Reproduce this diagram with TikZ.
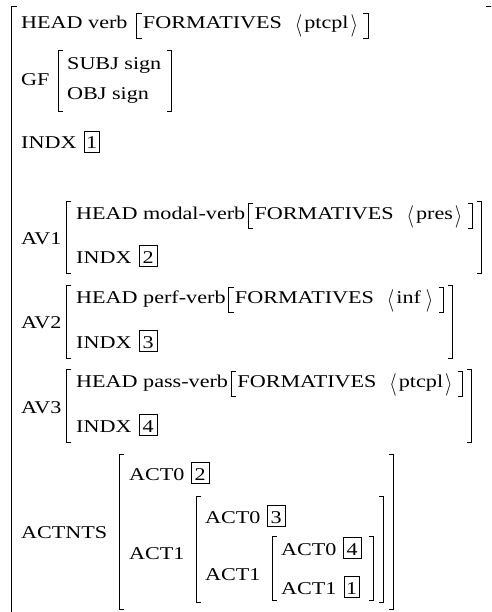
\documentclass[tikz,border=0pt]{standalone}
\usepackage{fontspec}
\setmainfont{Liberation Serif}[FakeStretch=1.23]
\usetikzlibrary{calc}
\newcommand{\avmfont}{\fontsize{18}{22}\selectfont}
\newcommand{\avmL}{\raisebox{-3pt}{\scalebox{1.1}[1.3]{$\langle$}}\kern2pt}
\newcommand{\avmR}{\kern2pt\raisebox{-3pt}{\scalebox{1.1}[1.3]{$\rangle$}}\kern4pt}
\tikzset{
  txt/.style={inner sep=0pt, anchor=base west, text height=12pt, text depth=5pt, font=\avmfont},
  fb/.style={inner xsep=6pt, inner ysep=3.5pt, anchor=base west, text height=12pt, text depth=6pt, font=\avmfont},
  dbox/.style={draw, line width=0.8pt, inner xsep=0pt, inner ysep=2pt, text height=16pt, text depth=1pt, minimum width=18pt, anchor=base west, font=\avmfont},
  dboxn/.style={dbox, minimum width=15pt},
  brk/.style={line width=0.9pt}
}
\newcommand{\brkc}[2]{%
  \draw[brk] ($(#1)+(5,0)$) -- (#1) -- (#1 |- #2) -- ($(#1 |- #2)+(5,0)$);
  \draw[brk] ($(#2 |- #1)+(-5,0)$) -- (#2 |- #1) -- (#2) -- ($(#2)+(-5,0)$);}
\begin{document}
\begin{tikzpicture}[x=1pt,y=-1pt]
\useasboundingbox (0,0) rectangle (491,612);
\clip (0,0) rectangle (491,612);
% outer bracket
\draw[brk] (17,6) -- (11,6) -- (11,620);
\draw[brk] (486,6) -- (492.5,6) -- (492.5,620);
% row 1
\node[txt] (hv) at (21,29) {HEAD verb};
\node[fb] (f0) at ($(hv.base east)+(9,0)$) {FORMATIVES\hspace{13pt}\avmL ptcpl\avmR};
\brkc{f0.north west}{f0.south east}
% GF
\node[txt] (gf) at (21,86) {GF};
\node[txt] (subj) at (67,70) {SUBJ sign};
\node[txt] (obj) at (67,100) {OBJ sign};
\coordinate (g1) at ($(subj.west |- subj.north)+(-9,-7)$);
\coordinate (g2) at ($(subj.east |- obj.south)+(10,6)$);
\brkc{g1}{g2}
% INDX 1
\node[txt] (ix) at (21,149) {INDX};
\node[dboxn] (bx1) at ($(ix.base east)+(7,0)$) {1};
% AV1
\node[txt] (av1) at (21,244) {AV1};
\node[txt] (h1) at (76,219) {HEAD modal-verb};
\node[fb] (f1) at ($(h1.base east)+(3,0)$) {FORMATIVES\hspace{13pt}\avmL pres\avmR};
\brkc{f1.north west}{f1.south east}
\node[txt] (i1) at (76,263) {INDX};
\node[dbox] (b2) at ($(i1.base east)+(7,0)$) {2};
\coordinate (t1) at ($(h1.west |- f1.north)+(-10,-1.5)$);
\coordinate (u1) at ($(f1.east |- b2.south)+(9,7)$);
\brkc{t1}{u1}
% AV2
\node[txt] (av2) at (21,328) {AV2};
\node[txt] (h2) at (76,303) {HEAD perf-verb};
\node[fb] (f2) at ($(h2.base east)+(3,0)$) {FORMATIVES\hspace{13pt}\avmL inf\kern3pt\avmR};
\brkc{f2.north west}{f2.south east}
\node[txt] (i2) at (76,348) {INDX};
\node[dbox] (b3) at ($(i2.base east)+(7,0)$) {3};
\coordinate (t2) at ($(h2.west |- f2.north)+(-10,-1.5)$);
\coordinate (u2) at ($(f2.east |- b3.south)+(9,7)$);
\brkc{t2}{u2}
% AV3
\node[txt] (av3) at (21,413) {AV3};
\node[txt] (h3) at (76,387) {HEAD pass-verb};
\node[fb] (f3) at ($(h3.base east)+(3,0)$) {FORMATIVES\hspace{13pt}\avmL ptcpl\avmR};
\brkc{f3.north west}{f3.south east}
\node[txt] (i3) at (76,432) {INDX};
\node[dbox] (b4) at ($(i3.base east)+(7,0)$) {4};
\coordinate (t3) at ($(h3.west |- f3.north)+(-10,-1.5)$);
\coordinate (u3) at ($(f3.east |- b4.south)+(9,7)$);
\brkc{t3}{u3}
% ACTNTS
\node[txt] (actnts) at (21,538) {ACTNTS};
\node[txt] (a0) at (129,480) {ACT0};
\node[dbox] (c2) at ($(a0.base east)+(6,0)$) {2};
\node[txt] (a1) at (129,559) {ACT1};
\node[txt] (a10) at (205,523) {ACT0};
\node[dbox] (c3) at ($(a10.base east)+(6,0)$) {3};
\node[txt] (a11) at (205,580) {ACT1};
\node[txt] (a110) at (281,555) {ACT0};
\node[dbox] (c4) at ($(a110.base east)+(6,0)$) {4};
\node[txt] (a111) at (281,594) {ACT1};
\node[dboxn] (c1) at ($(a111.base east)+(7,0)$) {1};
\coordinate (l3a) at ($(a110.west |- a110.north)+(-9,-6)$);
\coordinate (l3b) at ($(c4.east |- a111.south)+(12,1)$);
\brkc{l3a}{l3b}
\coordinate (l2a) at ($(a10.west |- a10.north)+(-9,-14)$);
\coordinate (l2b) at ($(l3b)+(10,2)$);
\brkc{l2a}{l2b}
\coordinate (l1a) at ($(a0.west |- a0.north)+(-10,-13)$);
\coordinate (l1b) at ($(l2b)+(10,7)$);
\brkc{l1a}{l1b}
\end{tikzpicture}
\end{document}
